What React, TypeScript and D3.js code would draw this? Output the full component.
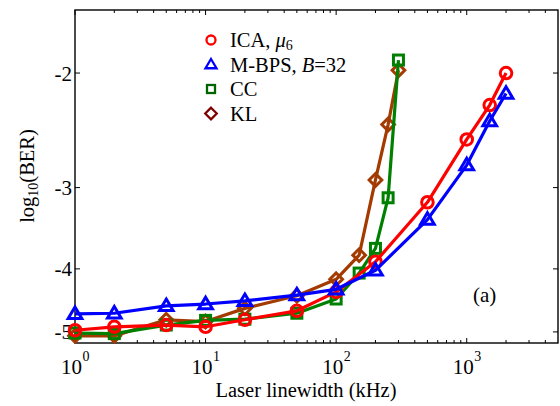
import React from "react";
import * as d3 from "d3";

const W = 560;
const H = 406;

const icaX = [1, 2, 5, 10, 20, 50, 100, 200, 500, 1000, 1500, 2000];
const icaY = [-4.97, -4.91, -4.88, -4.91, -4.79, -4.64, -4.34, -3.9, -3.16, -2.53, -2.24, -2.0];

const bpsX = [1, 2, 5, 10, 20, 50, 100, 200, 500, 1000, 1500, 2000];
const bpsY = [-4.69, -4.68, -4.56, -4.53, -4.48, -4.39, -4.3, -4.02, -3.36, -2.77, -2.37, -2.15];

const ccX = [1, 2, 5, 10, 20, 50, 100, 150, 200, 250, 300];
const ccY = [-5.02, -5.03, -4.88, -4.8, -4.78, -4.68, -4.45, -4.06, -3.72, -3.11, -1.91];

const klX = [1, 2, 5, 10, 20, 50, 100, 150, 200, 250, 300];
const klY = [-5.07, -5.07, -4.79, -4.82, -4.6, -4.4, -4.15, -3.81, -2.92, -2.4, -1.98];

const yTicks = [-2, -3, -4, -5];
const xTicks = [1, 10, 100, 1000];
const xTickExp = ["0", "1", "2", "3"];

const legendLabels = ["ICA", "M-BPS", "CC", "KL"];

const left = 75, right = 558, top = 10, bottom = 343;

const x = d3.scaleLog().domain([1, 5000]).range([left, right]);
const yRaw = d3.scaleLog().domain([1.6, 5.2]).range([top, bottom]);
const y = (v: number) => yRaw(-v);

const FONT = "'Liberation Serif', 'Times New Roman', serif";

type Kind = "circle" | "triangle" | "square" | "diamond";

function Marker({ kind, cx, cy, color, s, sw }: { kind: Kind; cx: number; cy: number; color: string; s: number; sw: number }) {
  if (kind === "circle") return <circle cx={cx} cy={cy} r={s} fill="none" stroke={color} strokeWidth={sw} />;
  if (kind === "square")
    return <rect x={cx - s} y={cy - s} width={2 * s} height={2 * s} fill="none" stroke={color} strokeWidth={sw} />;
  if (kind === "diamond")
    return (
      <path d={`M${cx},${cy - s * 1.15}L${cx + s * 1.15},${cy}L${cx},${cy + s * 1.15}L${cx - s * 1.15},${cy}Z`} fill="none" stroke={color} strokeWidth={sw} />
    );
  return (
    <path d={`M${cx},${cy - s * 1.1}L${cx + s * 1.1},${cy + s * 0.75}L${cx - s * 1.1},${cy + s * 0.75}Z`} fill="none" stroke={color} strokeWidth={sw} strokeLinejoin="miter" />
  );
}

const series = [
  { xs: klX, ys: klY, color: "#a33a00", kind: "diamond" as Kind, s: 5.5 },
  { xs: ccX, ys: ccY, color: "#008000", kind: "square" as Kind, s: 5 },
  { xs: icaX, ys: icaY, color: "#ff0000", kind: "circle" as Kind, s: 5.8 },
  { xs: bpsX, ys: bpsY, color: "#0000ff", kind: "triangle" as Kind, s: 6.2 },
];

export default function App() {
  const line = d3.line<[number, number]>().x((d) => x(d[0])).y((d) => y(d[1]));

  const minor: number[] = [];
  for (let dec = 1; dec <= 1000; dec *= 10) {
    for (let k = 2; k <= 9; k++) {
      const v = k * dec;
      if (v < 5000) minor.push(v);
    }
  }

  const legendRows = [
    { kind: "circle" as Kind, color: "#ff0000", yy: 40, s: 4.5 },
    { kind: "triangle" as Kind, color: "#0000ff", yy: 64.5, s: 5 },
    { kind: "square" as Kind, color: "#006400", yy: 89, s: 4 },
    { kind: "diamond" as Kind, color: "#800000", yy: 113.5, s: 5 },
  ];

  return (
    <svg width={W} height={H} style={{ position: "absolute", left: 0, top: 0, background: "#fff" }} fontFamily={FONT}>
      <rect x={0} y={0} width={W} height={H} fill="#fff" />
      {/* axes box */}
      <rect x={left} y={top} width={right - left} height={bottom - top} fill="none" stroke="#000" strokeWidth={1.4} />
      {/* x ticks */}
      {xTicks.map((t) => (
        <g key={"xt" + t}>
          <line x1={x(t)} x2={x(t)} y1={bottom} y2={bottom - 5} stroke="#000" strokeWidth={1} />
          <line x1={x(t)} x2={x(t)} y1={top} y2={top + 5} stroke="#000" strokeWidth={1} />
        </g>
      ))}
      {minor.map((t) => (
        <g key={"xm" + t}>
          <line x1={x(t)} x2={x(t)} y1={bottom} y2={bottom - 3} stroke="#000" strokeWidth={1} />
          <line x1={x(t)} x2={x(t)} y1={top} y2={top + 3} stroke="#000" strokeWidth={1} />
        </g>
      ))}
      {xTicks.map((t, i) => (
        <text key={"xl" + t} fontSize={21} fill="#000">
          <tspan x={x(t) + 7} y={374} textAnchor="end">10</tspan>
          <tspan x={x(t) + 7.5} y={361} fontSize={14} textAnchor="start">{xTickExp[i]}</tspan>
        </text>
      ))}
      {/* y ticks */}
      {yTicks.map((t) => (
        <g key={"yt" + t}>
          <line x1={left} x2={left + 5} y1={y(t)} y2={y(t)} stroke="#000" strokeWidth={1} />
          <line x1={right} x2={right - 5} y1={y(t)} y2={y(t)} stroke="#000" strokeWidth={1} />
          <text x={72} y={y(t) + 7.5} fontSize={21} textAnchor="end" fill="#000">
            {"-" + Math.abs(t)}
          </text>
        </g>
      ))}
      {/* axis labels */}
      <text x={306} y={397} fontSize={20.5} textAnchor="middle" fill="#000">
        Laser linewidth (kHz)
      </text>
      <text transform={`translate(34,176) rotate(-90)`} fontSize={20.5} textAnchor="middle" fill="#000">
        log<tspan fontSize={14} dy={4}>10</tspan>
        <tspan dy={-4}>(BER)</tspan>
      </text>
      {/* data */}
      {series.map((s, si) => {
        const pts = s.xs.map((v, i) => [v, s.ys[i]] as [number, number]);
        return (
          <g key={"s" + si}>
            <path d={line(pts) || ""} fill="none" stroke={s.color} strokeWidth={3.2} strokeLinejoin="round" />
            {pts.map((p, i) => (
              <Marker key={i} kind={s.kind} cx={x(p[0])} cy={y(p[1])} color={s.color} s={s.s} sw={3} />
            ))}
          </g>
        );
      })}
      {/* legend */}
      {legendRows.map((r, i) => (
        <Marker key={"lg" + i} kind={r.kind} cx={211} cy={r.yy} color={r.color} s={r.s} sw={2.3} />
      ))}
      <text x={230} y={47} fontSize={20.5} fill="#000">
        {legendLabels[0]}, <tspan fontStyle="italic">μ</tspan>
        <tspan fontSize={14} dy={3}>6</tspan>
      </text>
      <text x={230} y={71.5} fontSize={20.5} fill="#000">
        {legendLabels[1]}, <tspan fontStyle="italic">B</tspan>=32
      </text>
      <text x={230} y={96} fontSize={20.5} fill="#000">
        {legendLabels[2]}
      </text>
      <text x={230} y={120.5} fontSize={20.5} fill="#000">
        {legendLabels[3]}
      </text>
      <text x={473} y={302} fontSize={21} fill="#000">
        (a)
      </text>
    </svg>
  );
}
